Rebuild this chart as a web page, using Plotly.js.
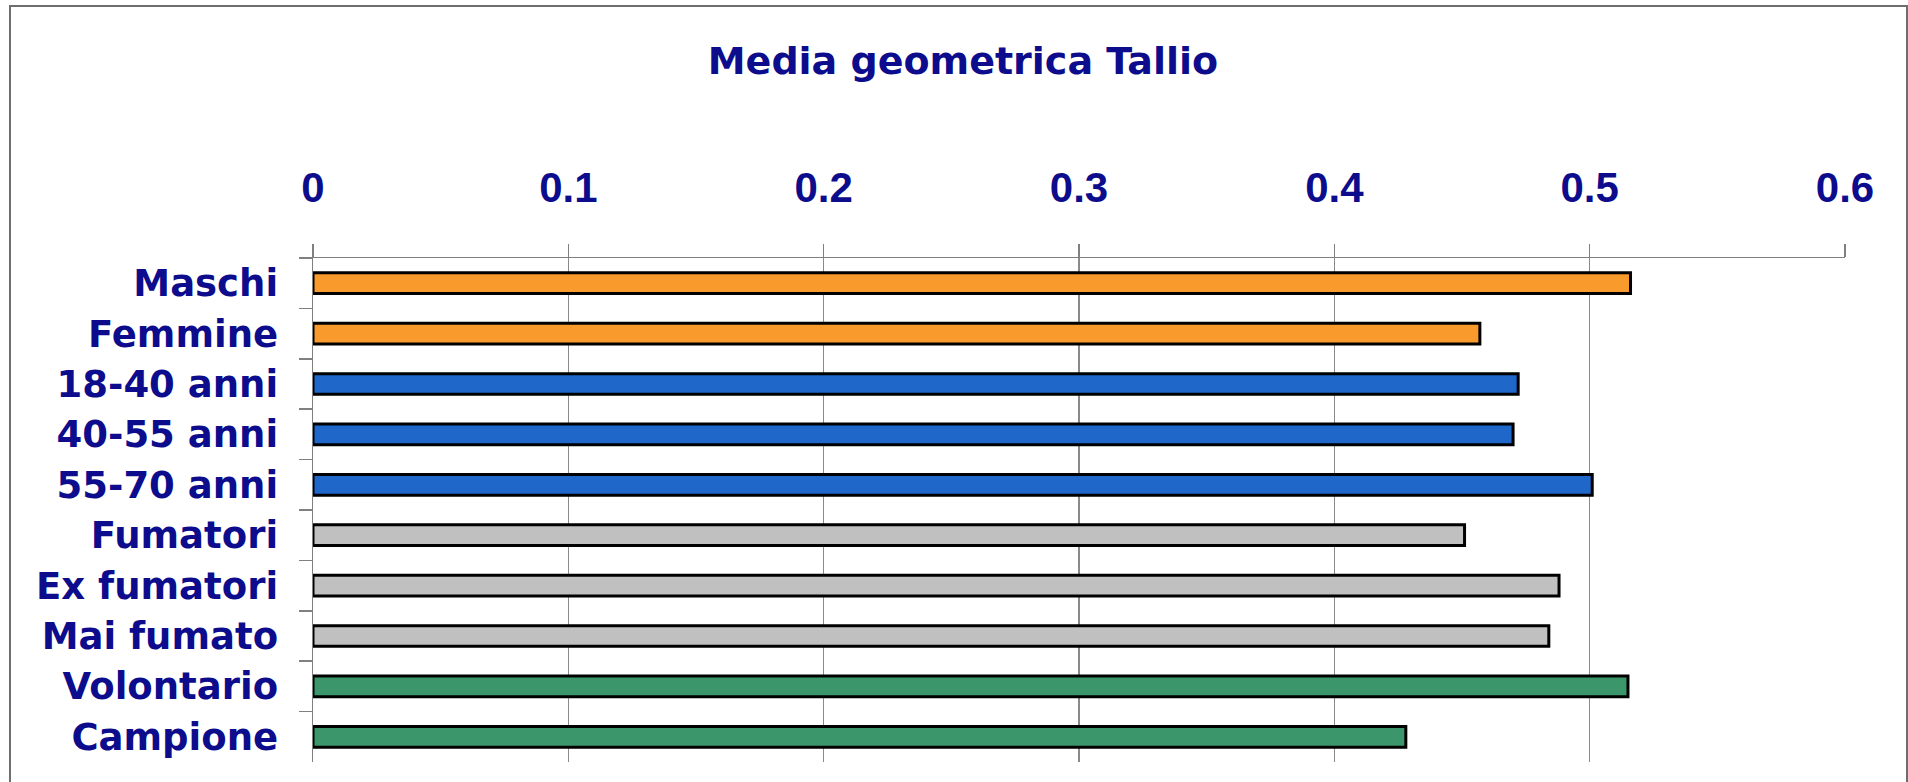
<!DOCTYPE html>
<html>
<head>
<meta charset="utf-8">
<script src="https://cdn.plot.ly/plotly-3.0.1.min.js"></script>
<style>
  html, body { margin: 0; padding: 0; background: #ffffff; overflow: hidden; }
  #wrap { position: relative; width: 1908px; height: 782px; }
  #frame { position: absolute; left: 9px; top: 5px; width: 1895px; height: 800px;
           border: 2px solid #6e6e6e; border-bottom: none; pointer-events: none; }
  #chart { position: absolute; left: 0; top: 0; width: 1908px; height: 782px; }
</style>
</head>
<body>
<div id="wrap">
  <div id="chart"></div>
  <div id="frame"></div>
</div>
<script>
// ---- data ----
const categories = ["Maschi", "Femmine", "18-40 anni", "40-55 anni", "55-70 anni",
                    "Fumatori", "Ex fumatori", "Mai fumato", "Volontario", "Campione"];
const values = [0.516, 0.457, 0.472, 0.470, 0.501, 0.451, 0.488, 0.484, 0.515, 0.428];
const barColors = ["#F99A2C", "#F99A2C", "#1F67C8", "#1F67C8", "#1F67C8",
                   "#C0C0C0", "#C0C0C0", "#C0C0C0", "#3C966B", "#3C966B"];
const xTickVals = [0, 0.1, 0.2, 0.3, 0.4, 0.5, 0.6];
const xTickText = ["0", "0.1", "0.2", "0.3", "0.4", "0.5", "0.6"];
const chartTitle = "Media geometrica Tallio";

const navy = "#0c0c8c";

const trace = {
  type: "bar",
  orientation: "h",
  x: values,
  y: categories,
  marker: { color: barColors, line: { color: "#000000", width: 3 } },
  hoverinfo: "x+y"
};

const layout = {
  width: 1908,
  height: 782,
  paper_bgcolor: "rgba(0,0,0,0)",
  plot_bgcolor: "rgba(0,0,0,0)",
  margin: { l: 312.5, r: 62.5, t: 258, b: 20 },
  showlegend: false,
  bargap: 0.59,
  title: {
    text: chartTitle,
    x: 0.5047,
    xref: "container",
    xanchor: "center",
    y: 1 - 61 / 782,
    yref: "container",
    yanchor: "middle",
    font: { family: "DejaVu Sans", size: 38, weight: 700, color: navy }
  },
  xaxis: {
    side: "top",
    range: [0, 0.6],
    tickvals: xTickVals,
    ticktext: xTickText,
    showgrid: true,
    gridcolor: "#8a8a8a",
    gridwidth: 1.5,
    zeroline: false,
    showline: true,
    linecolor: "#808080",
    linewidth: 1.5,
    ticks: "outside",
    ticklen: 13,
    tickwidth: 1.5,
    tickcolor: "#808080",
    ticklabelstandoff: 25,
    tickfont: { family: "Liberation Sans, Arial", size: 42, weight: 700, color: navy },
    fixedrange: true
  },
  yaxis: {
    type: "category",
    autorange: "reversed",
    showgrid: false,
    zeroline: false,
    showline: true,
    linecolor: "#808080",
    linewidth: 1.5,
    ticks: "outside",
    tickson: "boundaries",
    ticklen: 13,
    tickwidth: 1.5,
    tickcolor: "#808080",
    ticklabelstandoff: 26,
    tickfont: { family: "DejaVu Sans", size: 37, weight: 700, color: navy },
    fixedrange: true
  }
};

Plotly.newPlot("chart", [trace], layout, { displayModeBar: false, staticPlot: true });
</script>
</body>
</html>
